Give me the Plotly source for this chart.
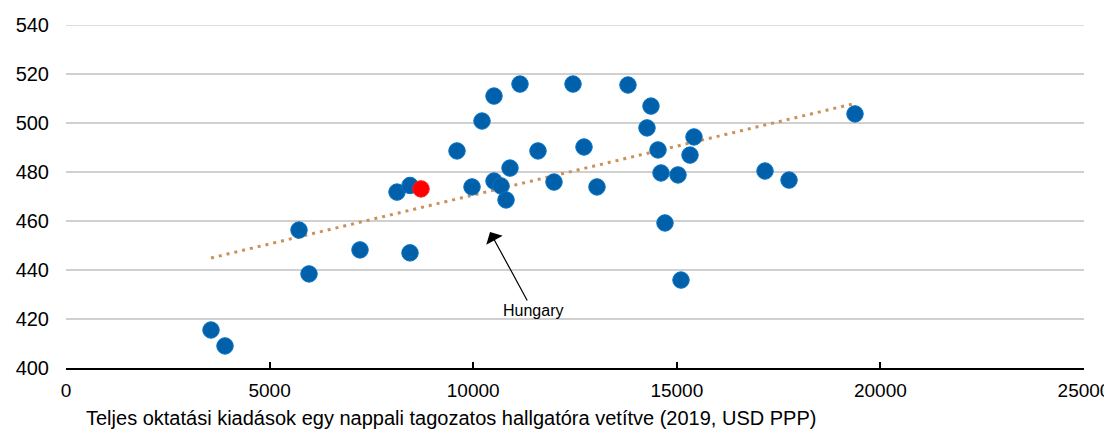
import plotly.graph_objects as go

# kiadás / hallgató (USD PPP) és pontszám
spend = [3561, 3905, 5722, 5968, 7220, 8129, 8448, 8448, 9602, 9971,
         10216, 10511, 10511, 10683, 10806, 10904, 11149, 11591, 11984, 12451,
         12721, 13040, 13801, 14366, 14268, 14538, 14612, 14710, 15029, 15103,
         15324, 15422, 17166, 17756, 19376]
score = [415.5, 409.0, 456.3, 438.4, 448.2, 471.8, 474.5, 447.0, 488.6, 473.9,
         500.8, 511.0, 476.3, 474.3, 468.6, 481.6, 515.9, 488.6, 475.9, 515.9,
         490.2, 473.9, 515.5, 506.9, 498.0, 489.0, 479.6, 459.2, 478.8, 435.9,
         486.9, 494.3, 480.4, 476.7, 503.7]

hu_spend = [8718]
hu_score = [473.1]

trend_x = [3561, 19376]
trend_y = [444.9, 508.0]

x_ticks = [0, 5000, 10000, 15000, 20000, 25000]
x_labels = ["0", "5000", "10000", "15000", "20000", "25000"]
y_ticks = [400, 420, 440, 460, 480, 500, 520, 540]

# a böngésző 8px body margót tesz az ábra köré
W, H = 1104, 421
ML, MR, MT, MB = 58, 28, 17, 61

fig = go.Figure()

fig.add_trace(go.Scatter(
    x=trend_x, y=trend_y, mode="lines",
    line=dict(color="#CC9059", width=3, dash="3px,5px"),
    hoverinfo="skip",
))

fig.add_trace(go.Scatter(
    x=spend, y=score, mode="markers",
    marker=dict(size=16.5, color="#0061AA", line=dict(color="#0873C4", width=1)),
))

fig.add_trace(go.Scatter(
    x=hu_spend, y=hu_score, mode="markers",
    marker=dict(size=16.5, color="#FF0000", line=dict(color="#FF1A1A", width=1)),
))

# felső rácsvonal (a tartomány szélén plotly nem rajzolja)
fig.add_shape(type="line", xref="paper", x0=0, x1=1, yref="y", y0=y_ticks[-1], y1=y_ticks[-1],
              line=dict(color="#D0D0D0", width=1.5), layer="below")

fig.add_annotation(
    x=10413, y=455.5, xref="x", yref="y",
    ax=11460, ay=423.5, axref="x", ayref="y",
    text="Hungary", showarrow=True,
    arrowhead=1, arrowsize=2.6, arrowwidth=1.2, arrowcolor="#000000",
    font=dict(family="Liberation Sans Narrow, Arial Narrow, sans-serif", size=16, color="#000000"),
)

pw, ph = W - ML - MR, H - MT - MB
fig.add_annotation(
    x=(84 - 8 - ML) / pw, y=-(418 - 8 - (H - MB)) / ph,
    xref="paper", yref="paper",
    text="Teljes oktatási kiadások egy nappali tagozatos hallgatóra vetítve (2019, USD PPP)",
    showarrow=False, xanchor="left", yanchor="middle",
    font=dict(family="Liberation Sans, Arial, sans-serif", size=20, color="#000000"),
)

fig.update_layout(
    width=W, height=H,
    margin=dict(l=ML, r=MR, t=MT, b=MB, autoexpand=False),
    plot_bgcolor="white", paper_bgcolor="white",
    showlegend=False,
    font=dict(family="Liberation Sans, Arial, sans-serif", size=16, color="#000000"),
    xaxis=dict(
        range=[0, 25000], tickvals=x_ticks, ticktext=x_labels,
        showgrid=False, zeroline=False,
        showline=True, linecolor="#000000", linewidth=1.5,
        ticks="inside", ticklen=6, tickwidth=1.5, tickcolor="#000000",
        tickfont=dict(family="Liberation Sans Narrow, Arial Narrow, sans-serif", size=19),
        ticklabelstandoff=4,
    ),
    yaxis=dict(
        range=[400, 540], tickvals=y_ticks, showgrid=True, gridcolor="#D0D0D0",
        gridwidth=1.5, zeroline=False, showline=False, ticklabelstandoff=16,
        tickfont=dict(size=20),
    ),
)

fig.write_html("out.html")
